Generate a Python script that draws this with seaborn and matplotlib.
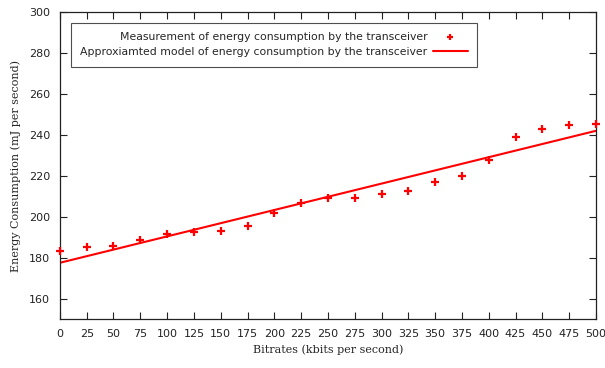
import matplotlib
matplotlib.use("Agg")
import matplotlib.pyplot as plt
import seaborn as sns
import pandas as pd

# Measured transceiver energy consumption per bitrate
bitrates = [0, 25, 50, 75, 100, 125, 150, 175, 200, 225, 250,
            275, 300, 325, 350, 375, 400, 425, 450, 475, 500]
measured = [183.5, 185, 185.5, 188.5, 191.5, 192.5, 193, 195.5, 202, 206.5, 209,
            209, 211, 212.5, 217, 220, 227.5, 239, 243, 245, 245.5]

# Linear model endpoints
model_x = [0, 500]
model_y = [177.5, 242]

meas_label = "Measurement of energy consumption by the transceiver"
model_label = "Approxiamted model of energy consumption by the transceiver"

sns.set_theme(style="ticks")
plt.rcParams["font.family"] = ["DejaVu Sans"]

df_meas = pd.DataFrame({"x": bitrates, "y": measured})
df_model = pd.DataFrame({"x": model_x, "y": model_y})

fig = plt.figure(figsize=(6.05, 3.68), dpi=100)
ax = fig.add_axes([0.099, 0.133, 0.886, 0.834])

sns.scatterplot(data=df_meas, x="x", y="y", ax=ax, marker="+", s=40,
                color="#ff0000", linewidth=1.6, label=meas_label, zorder=3,
                clip_on=False)
sns.lineplot(data=df_model, x="x", y="y", ax=ax, color="#ff0000",
             linewidth=1.5, label=model_label)

ax.set_xlim(0, 500)
ax.set_ylim(150, 300)
ax.set_xticks(list(range(0, 501, 25)))
ax.set_yticks(list(range(160, 301, 20)))
ax.tick_params(direction="in", top=True, right=True, length=5, width=0.8,
               labelsize=8, colors="#222222", pad=7)
for s in ax.spines.values():
    s.set_color("#222222")
    s.set_linewidth(0.9)

ax.set_xlabel("Bitrates (kbits per second)", family="DejaVu Serif", fontsize=8,
              labelpad=4)
ax.set_ylabel("Energy Consumption (mJ per second)", family="DejaVu Serif",
              fontsize=8, labelpad=6)

leg = ax.legend(loc="upper left", bbox_to_anchor=(0.02, 0.966), markerfirst=False,
                frameon=True, fancybox=False, edgecolor="#222222", fontsize=7.8,
                handlelength=3.2, handletextpad=0.5, borderpad=0.9,
                labelspacing=0.45, borderaxespad=0, markerscale=0.7)
leg.get_frame().set_linewidth(0.8)

fig.savefig("out.png", dpi=100, facecolor="white")
